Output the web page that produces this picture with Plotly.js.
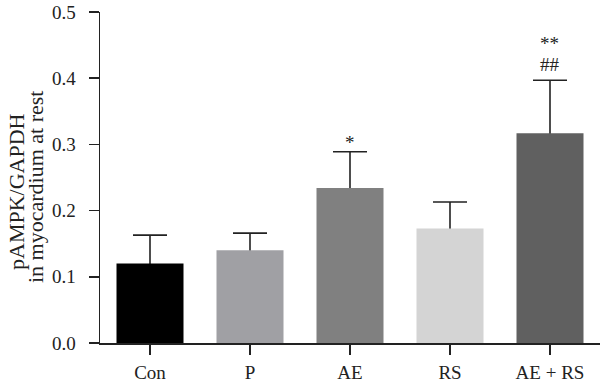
<!DOCTYPE html>
<html>
<head>
<meta charset="utf-8">
<script src="https://cdn.plot.ly/plotly-3.0.1.min.js"></script>
<style>html,body{margin:0;padding:0;background:#fff;}#chart{width:600px;height:385px;}</style>
</head>
<body>
<div id="chart"></div>
<script>
const categories = ["Con", "P", "AE", "RS", "AE + RS"];
const means = [0.120, 0.140, 0.234, 0.173, 0.317];
const sems = [0.043, 0.026, 0.055, 0.040, 0.080];
const barColors = ["#000000", "#a0a0a4", "#808080", "#d4d4d4", "#606060"];
const sigLabels = [[], [], ["*"], [], ["**", "##"]];
const yTicks = [0, 0.1, 0.2, 0.3, 0.4, 0.5];
const yTickText = ["0.0", "0.1", "0.2", "0.3", "0.4", "0.5"];
const yTitleLines = ["pAMPK/GAPDH", "in myocardium at rest"];

const serif = "Liberation Serif, Times New Roman, serif";
const ink = "#222";

// error bars (drawn underneath the bars so only the upper half shows)
const errTrace = {
  type: "scatter", mode: "markers",
  x: categories, y: means,
  xaxis: "x", yaxis: "y",
  marker: {size: 1, opacity: 0},
  error_y: {
    type: "data", array: sems, symmetric: true, visible: true,
    color: ink, thickness: 1.6, width: 17
  },
  hoverinfo: "none"
};

const barTrace = {
  type: "bar",
  x: categories, y: means,
  xaxis: "x2", yaxis: "y2",
  marker: {color: barColors, line: {width: 0}},
  width: 0.67,
  hoverinfo: "none"
};

const annotations = [];
categories.forEach((c, i) => {
  const lines = sigLabels[i];
  if (!lines.length) return;
  annotations.push({
    x: c, y: means[i] + sems[i], xref: "x", yref: "y",
    text: lines.map(s => "<span style='font-size:19px'>" + s + "</span>").join("<br>"),
    showarrow: false,
    yanchor: "bottom", yshift: lines.length > 1 ? 3 : -3,
    font: {family: serif, size: 16, color: ink}
  });
});
const titleX = [16, 35];
const titleY = [192, 187];
yTitleLines.forEach((t, k) => {
  annotations.push({
    text: t, showarrow: false, textangle: -90,
    xref: "paper", yref: "paper",
    x: 0, y: 1, xanchor: "center", yanchor: "middle",
    xshift: titleX[k] - 100, yshift: 12 - titleY[k],
    font: {family: serif, size: 22, color: ink}
  });
});

const axisCommon = {
  showline: true, linecolor: ink, linewidth: 1.5,
  ticks: "outside", ticklen: 10, tickwidth: 1.5, tickcolor: ink,
  showgrid: false, zeroline: false, fixedrange: true
};

const layout = {
  width: 600, height: 385,
  margin: {l: 100, r: 0, t: 12, b: 42},
  paper_bgcolor: "#fff", plot_bgcolor: "#fff",
  showlegend: false,
  font: {family: serif, color: ink},
  xaxis: Object.assign({}, axisCommon, {
    type: "category", range: [-0.5, 4.5],
    tickfont: {family: serif, size: 19, color: ink},
    ticklabelstandoff: 2
  }),
  yaxis: Object.assign({}, axisCommon, {
    range: [0, 0.5],
    tickvals: yTicks, ticktext: yTickText,
    tickfont: {family: serif, size: 19, color: ink},
    ticklabelstandoff: 9,
    automargin: false
  }),
  xaxis2: {type: "category", overlaying: "x", matches: "x", visible: false, fixedrange: true},
  yaxis2: {overlaying: "y", matches: "y", visible: false, fixedrange: true},
  annotations: annotations
};

Plotly.newPlot("chart", [errTrace, barTrace], layout, {displayModeBar: false, staticPlot: true});
</script>
</body>
</html>
